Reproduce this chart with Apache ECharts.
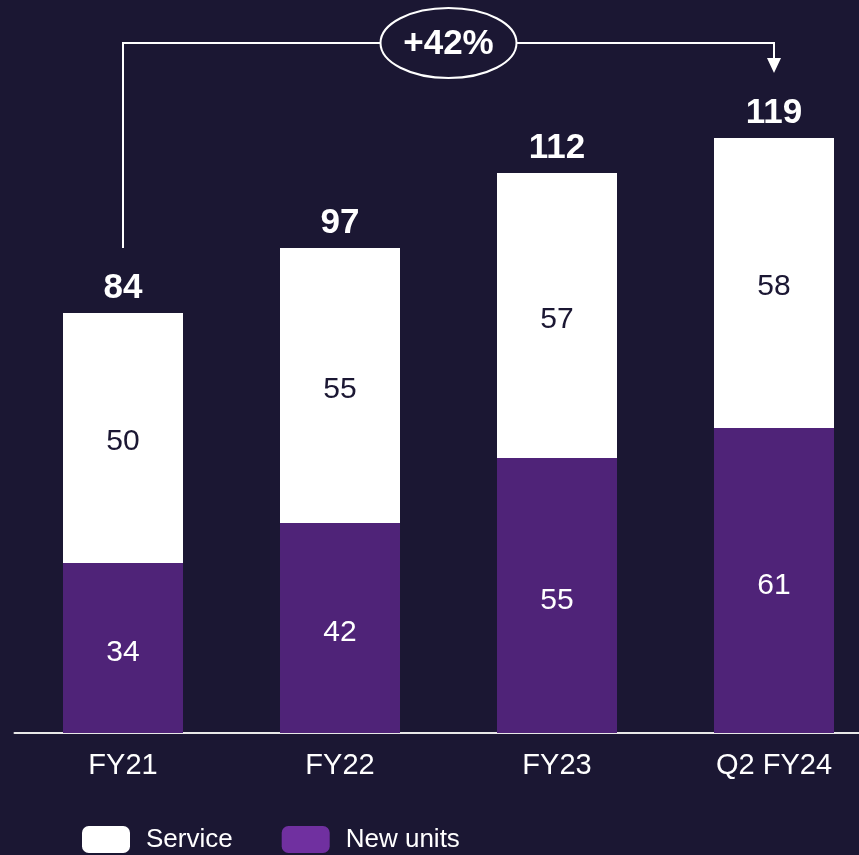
<!DOCTYPE html>
<html><head><meta charset="utf-8">
<script src="https://cdn.jsdelivr.net/npm/echarts@6/dist/echarts.min.js"></script>
<style>html,body{margin:0;padding:0;background:#1b1733;}#c{width:859px;height:855px;}</style>
</head><body><div id="c"></div>
<script>
const categories = ['FY21', 'FY22', 'FY23', 'Q2 FY24'];
const newUnits = [34, 42, 55, 61];
const service = [50, 55, 57, 58];
const totals = [84, 97, 112, 119];
const growthLabel = '+42%';

const FONT = '"Liberation Sans", Arial, sans-serif';
const chart = echarts.init(document.getElementById('c'));
const option = {
  backgroundColor: '#1b1733',
  animation: false,
  grid: { left: 14.5, width: 868, top: 33, bottom: 122, containLabel: false, outerBoundsMode: 'none' },
  legend: {
    left: 77, top: 821,
    itemWidth: 48, itemHeight: 27, itemGap: 49,
    icon: 'roundRect',
    textStyle: { color: '#ffffff', fontSize: 26, fontFamily: FONT, padding: [5, 0, 0, 11] },
    data: [{ name: 'Service', itemStyle: { color: '#ffffff' } }, { name: 'New units', itemStyle: { color: '#7030a0' } }]
  },
  xAxis: {
    type: 'category', data: categories,
    axisLine: { lineStyle: { color: '#e8e8e8', width: 2 } },
    axisTick: { show: false },
    axisLabel: { color: '#ffffff', fontSize: 29, fontFamily: FONT, margin: 18 }
  },
  yAxis: { type: 'value', min: 0, max: 140, show: false, splitLine: { show: false } },
  series: [
    {
      name: 'New units', type: 'bar', stack: 's', data: newUnits, barWidth: 120,
      itemStyle: { color: '#4f2378' },
      label: { show: true, position: 'inside', offset: [0, 5], color: '#ffffff', fontSize: 30, fontFamily: FONT }
    },
    {
      name: 'Service', type: 'bar', stack: 's', data: service, barWidth: 120,
      itemStyle: { color: '#ffffff' },
      label: { show: true, position: 'inside', offset: [0, 4], color: '#1b1733', fontSize: 30, fontFamily: FONT }
    },
    {
      name: 'Total', type: 'scatter', data: totals, symbolSize: 0, silent: true,
      itemStyle: { opacity: 1 },
      label: { show: true, position: 'top', distance: 7, color: '#ffffff', opacity: 1, fontSize: 35, fontWeight: 'bold', fontFamily: FONT }
    }
  ]
};
chart.setOption(option);

// growth annotation anchored to data positions
const p0 = chart.convertToPixel({ gridIndex: 0 }, [0, 97]);
const pTop = chart.convertToPixel({ gridIndex: 0 }, [0, 138]);
const p3 = chart.convertToPixel({ gridIndex: 0 }, [3, 132]);
const yTop = pTop[1];
const ex = (p0[0] + p3[0]) / 2;
chart.setOption({
  graphic: [
    { type: 'polyline', shape: { points: [[p0[0], p0[1]], [p0[0], yTop], [p3[0], yTop], [p3[0], p3[1] - 12]] },
      style: { stroke: '#ffffff', lineWidth: 2, fill: null } },
    { type: 'polygon', shape: { points: [[p3[0] - 7, p3[1] - 15], [p3[0] + 7, p3[1] - 15], [p3[0], p3[1]]] },
      style: { fill: '#ffffff' } },
    { type: 'ellipse', shape: { cx: ex, cy: yTop, rx: 68, ry: 35 },
      style: { fill: '#1b1733', stroke: '#ffffff', lineWidth: 2 } },
    { type: 'text', x: ex, y: yTop + 1, style: { text: growthLabel, fill: '#ffffff', font: 'bold 35px ' + FONT, align: 'center', verticalAlign: 'middle' } }
  ]
});
</script></body></html>
